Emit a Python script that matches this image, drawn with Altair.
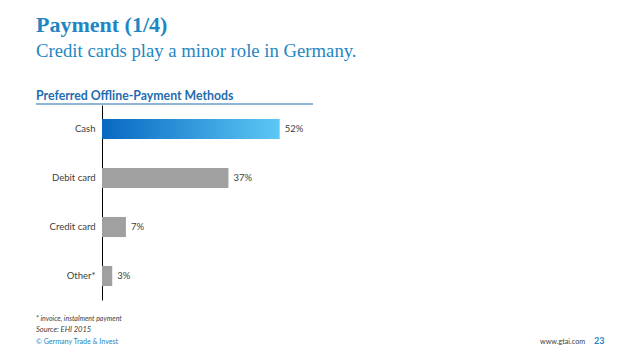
import altair as alt
import pandas as pd

categories = ["Cash", "Debit card", "Credit card", "Other*"]
shares = [52, 37, 7, 3]
value_labels = ["52%", "37%", "7%", "3%"]

title_text = "Payment (1/4)"
subtitle_text = "Credit cards play a minor role in Germany."
section_text = "Preferred Offline-Payment Methods"
footnote_text = "* invoice, instalment payment"
source_text = "Source: EHI 2015"
copyright_text = "© Germany Trade & Invest"
url_text = "www.gtai.com"
page_text = "23"

BLUE = "#1F86C3"
DARK_BLUE = "#1F6DB0"

df = pd.DataFrame({"method": categories, "share": shares, "label": value_labels})
one = pd.DataFrame({"k": [0]})

y_enc = alt.Y(
    "method:N",
    scale=alt.Scale(domain=categories, paddingInner=0.59, paddingOuter=0.285),
    axis=alt.Axis(title=None, ticks=False, domainColor="#000000", domainWidth=1,
                  labelFont="Lato", labelFontSize=9.5, labelColor="#404040",
                  labelPadding=7, grid=False),
)
x_enc = alt.X("share:Q", scale=alt.Scale(domain=[0, 60]), axis=None)

base = alt.Chart(df)
grad = alt.Gradient(
    gradient="linear",
    stops=[alt.GradientStop(color="#0868C2", offset=0),
           alt.GradientStop(color="#5CC8F4", offset=1)],
    x1=0, x2=1, y1=0, y2=0,
)
cash = base.transform_filter(alt.datum.method == "Cash").mark_bar(color=grad).encode(x=x_enc, y=y_enc)
others = base.transform_filter(alt.datum.method != "Cash").mark_bar(color="#A0A0A0").encode(x=x_enc, y=y_enc)
labels = base.mark_text(align="left", dx=5, font="Lato", fontSize=9.5, color="#404040").encode(
    x=x_enc, y=y_enc, text="label:N")


def txt(s, x, y, size, color, font="Lato", weight="normal", style="normal", align="left"):
    return alt.Chart(one).mark_text(
        align=align, baseline="alphabetic", font=font, fontSize=size, color=color,
        fontWeight=weight, fontStyle=style,
    ).encode(x=alt.value(x), y=alt.value(y), text=alt.value(s))


title = txt(title_text, -66, -73, 22, BLUE, font="Liberation Serif", weight="bold")
subtitle = txt(subtitle_text, -66, -48, 18.7, BLUE, font="Liberation Serif")
section = txt(section_text, -66, -5, 12.3, DARK_BLUE, weight="bold")
underline = alt.Chart(one).mark_rule(color=DARK_BLUE, strokeWidth=1).encode(
    x=alt.value(-66), x2=alt.value(211), y=alt.value(-1))
foot1 = txt(footnote_text, -66, 216, 7, "#404040", style="italic")
foot2 = txt(source_text, -66, 227, 7.5, "#404040", style="italic")
foot3 = txt(copyright_text, -66, 239, 7.1, BLUE)
url = txt(url_text, 438, 239, 7.2, "#404040")
page = txt(page_text, 492, 239, 9, BLUE, weight="bold")

chart = alt.layer(
    cash, others, labels, title, subtitle, section, underline, foot1, foot2, foot3, url, page
).properties(
    width=205, height=195,
    autosize=alt.AutoSizeParams(type="none"),
    padding={"left": 94, "top": 97, "right": 320, "bottom": 50},
).configure_view(stroke=None)

chart.save("out.html", embed_options={"renderer": "svg", "actions": False})
